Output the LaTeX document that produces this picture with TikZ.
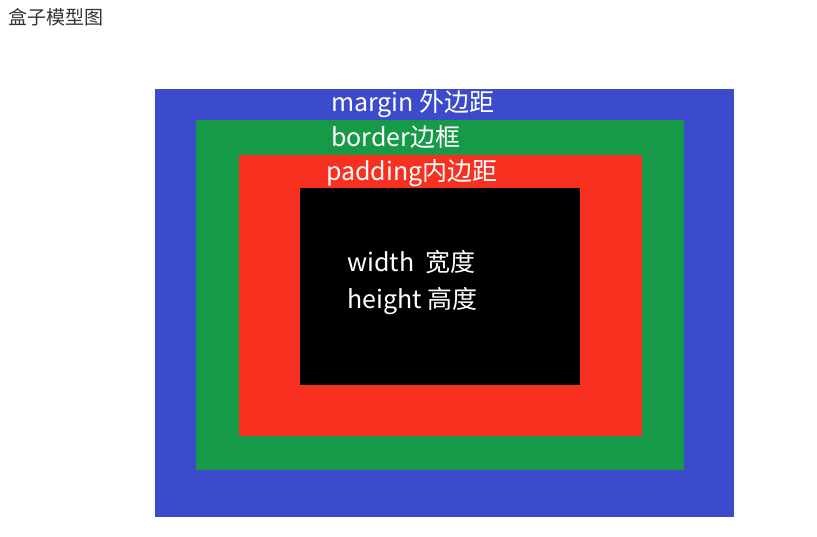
\documentclass[tikz,border=0pt]{standalone}
\usepackage{fontspec}
\setmainfont{Noto Sans CJK SC}
\definecolor{mblue}{HTML}{3B4BCB}
\definecolor{bgreen}{HTML}{169A47}
\definecolor{pred}{HTML}{F8301F}
\definecolor{ttl}{HTML}{333333}
\begin{document}
\begin{tikzpicture}[x=1pt,y=-1pt,
  box/.style={inner sep=0pt,outer sep=0pt},
  lbl/.style={text=white,font=\fontsize{25}{29}\selectfont,inner sep=0pt,anchor=west}]
\useasboundingbox (0,0) rectangle (817,537);
\fill[mblue] (155,89) rectangle (734,517);
\fill[bgreen] (196,120) rectangle (684,470);
\fill[pred] (239,155) rectangle (642,436);
\fill[black] (300,188) rectangle (580,385);
\node[inner sep=0pt,anchor=west,text=ttl,font=\fontsize{19}{23}\selectfont] (title) at (8,17) {盒子模型图};
\node[lbl] (margin) at (331,104) {margin 外边距};
\node[lbl] (border) at (331,137) {border边框};
\node[lbl] (padding) at (326,173) {padding内边距};
\node[lbl] (width) at (347,262) {width\ \ 宽度};
\node[lbl] (height) at (347,301) {height 高度};
\end{tikzpicture}
\end{document}
